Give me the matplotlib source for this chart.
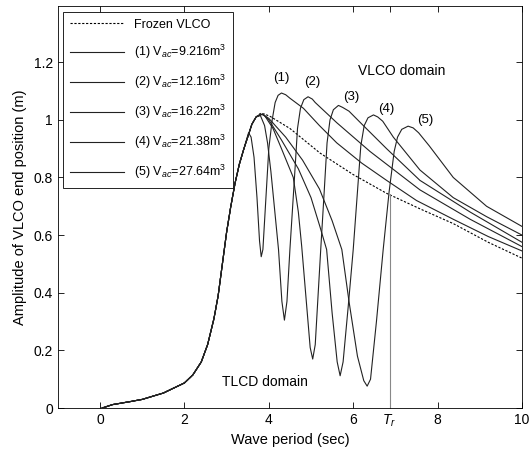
import matplotlib
matplotlib.use("Agg")
import matplotlib.pyplot as plt

plt.rcParams["font.family"] = ["Liberation Sans", "DejaVu Sans"]
plt.rcParams["mathtext.fontset"] = "custom"
plt.rcParams["mathtext.rm"] = "Liberation Sans"
plt.rcParams["mathtext.it"] = "Liberation Sans:italic"

# shared rising branch (all curves coincide here)
rise_x = [0.05, 0.3, 0.7, 1.0, 1.5, 2.0, 2.2, 2.4, 2.55, 2.7, 2.8, 2.9, 3.0, 3.1, 3.2, 3.3, 3.4]
rise_y = [0.0, 0.012, 0.022, 0.03, 0.052, 0.087, 0.115, 0.16, 0.22, 0.31, 0.39, 0.5, 0.61, 0.7, 0.78, 0.845, 0.895]

frozen_x = [3.5, 3.6, 3.7, 3.8, 3.9, 4.03, 4.5, 5.21, 6.0, 6.79, 7.6, 8.37, 9.2, 10.0]
frozen_y = [0.94, 0.985, 1.01, 1.022, 1.02, 1.012, 0.97, 0.885, 0.81, 0.745, 0.69, 0.64, 0.575, 0.52]

c1_x = [3.46, 3.52, 3.58, 3.65, 3.72, 3.78, 3.82, 3.86, 3.92, 4.0, 4.08, 4.15, 4.22, 4.3, 4.4, 4.5,
        4.82, 5.2, 5.61, 6.2, 6.79, 7.5, 8.37, 9.2, 10.0]
c1_y = [0.925, 0.955, 0.94, 0.87, 0.73, 0.58, 0.525, 0.55, 0.7, 0.9, 1.0, 1.06, 1.085, 1.093, 1.087, 1.075,
        1.04, 0.98, 0.92, 0.85, 0.79, 0.72, 0.655, 0.595, 0.545]

c2_x = [3.5, 3.6, 3.7, 3.8, 3.9, 3.97, 4.05, 4.13, 4.23, 4.31, 4.37, 4.43, 4.5, 4.6, 4.68, 4.75, 4.83,
        4.93, 5.03, 5.1, 5.61, 6.4, 7.58, 8.77, 10.0]
c2_y = [0.94, 0.985, 1.01, 1.015, 0.98, 0.92, 0.82, 0.7, 0.55, 0.37, 0.305, 0.37, 0.55, 0.78, 0.97, 1.04, 1.07,
        1.08, 1.072, 1.06, 0.99, 0.89, 0.757, 0.655, 0.56]

c3_x = [3.5, 3.6, 3.7, 3.8, 3.9, 4.1, 4.3, 4.58, 4.7, 4.78, 4.9, 4.98, 5.04, 5.1, 5.23, 5.3, 5.38, 5.45,
        5.53, 5.65, 5.75, 5.9, 6.24, 6.79, 7.58, 8.77, 10.0]
c3_y = [0.94, 0.985, 1.01, 1.02, 1.015, 0.97, 0.9, 0.80, 0.68, 0.56, 0.35, 0.21, 0.17, 0.22, 0.55, 0.72, 0.92, 1.0,
        1.035, 1.05, 1.043, 1.03, 0.98, 0.9, 0.79, 0.68, 0.575]

c4_x = [3.5, 3.6, 3.7, 3.85, 4.0, 4.3, 4.7, 5.0, 5.21, 5.37, 5.5, 5.62, 5.69, 5.76, 5.88, 6.0, 6.1, 6.18,
        6.26, 6.35, 6.48, 6.58, 6.7, 6.95, 7.58, 8.37, 9.16, 10.0]
c4_y = [0.94, 0.985, 1.01, 1.02, 1.0, 0.93, 0.83, 0.73, 0.63, 0.55, 0.33, 0.16, 0.112, 0.16, 0.35, 0.55, 0.75, 0.91,
        0.98, 1.007, 1.017, 1.01, 0.995, 0.94, 0.826, 0.73, 0.664, 0.60]

c5_x = [3.5, 3.6, 3.7, 3.85, 4.0, 4.4, 4.8, 5.2, 5.5, 5.73, 5.9, 6.1, 6.25, 6.33, 6.41, 6.55, 6.71, 6.85,
        6.97, 7.05, 7.15, 7.3, 7.42, 7.55, 7.8, 8.37, 9.16, 10.0]
c5_y = [0.94, 0.985, 1.01, 1.02, 1.005, 0.94, 0.86, 0.76, 0.65, 0.55, 0.37, 0.18, 0.095, 0.076, 0.1, 0.3, 0.55, 0.75,
        0.89, 0.94, 0.967, 0.978, 0.972, 0.955, 0.91, 0.80, 0.70, 0.63]

volumes = ["9.216", "12.16", "16.22", "21.38", "27.64"]
curves = [(c1_x, c1_y), (c2_x, c2_y), (c3_x, c3_y), (c4_x, c4_y), (c5_x, c5_y)]
peak_labels = ["(1)", "(2)", "(3)", "(4)", "(5)"]
peak_label_pos = [(4.3, 1.145), (5.02, 1.13), (5.96, 1.078), (6.79, 1.037), (7.7, 1.0)]

T_r = 6.86

fig = plt.figure(figsize=(5.3, 4.59), dpi=100)
ax = fig.add_axes([0.109, 0.111, 0.876, 0.876])

ax.plot(rise_x + frozen_x, rise_y + frozen_y, color="black", ls=(0, (2, 1.5)), lw=0.8,
        label="Frozen VLCO")
for i, ((cx, cy), v) in enumerate(zip(curves, volumes)):
    ax.plot(rise_x + cx, rise_y + cy, color="#222222", lw=0.8,
            label=f"({i + 1}) V$_{{ac}}$={v}m$^3$")

ax.plot([T_r, T_r], [0, 0.74], color="#888888", lw=0.8)

for t, (px, py) in zip(peak_labels, peak_label_pos):
    ax.text(px, py, t, fontsize=9.5, ha="center", va="center")
ax.text(7.15, 1.17, "VLCO domain", fontsize=10, ha="center", va="center")
ax.text(3.9, 0.09, "TLCD domain", fontsize=10, ha="center", va="center")

ax.set_xlim(-1, 10)
ax.set_ylim(0, 1.395)
ax.set_xticks([0, 2, 4, 6, T_r, 8, 10])
ax.set_xticklabels(["0", "2", "4", "6", "$\\mathit{T}_{\\mathit{r}}$", "8", "10"])
ax.set_yticks([0, 0.2, 0.4, 0.6, 0.8, 1.0, 1.2])
ax.set_yticklabels(["0", "0.2", "0.4", "0.6", "0.8", "1", "1.2"])
ax.tick_params(direction="in", top=True, right=True, labelsize=10, length=4, width=0.6)
for s in ax.spines.values():
    s.set_linewidth(0.6)
ax.set_xlabel("Wave period (sec)", fontsize=10.5, labelpad=3)
ax.set_ylabel("Amplitude of VLCO end position (m)", fontsize=10.5, labelpad=5)

leg = ax.legend(loc="upper left", bbox_to_anchor=(0.011, 0.985), borderaxespad=0, fontsize=9,
                handlelength=4.3, labelspacing=0.95, borderpad=0.55, fancybox=False,
                framealpha=1, edgecolor="black")
leg.get_frame().set_linewidth(0.6)

fig.savefig("out.png", dpi=100)
